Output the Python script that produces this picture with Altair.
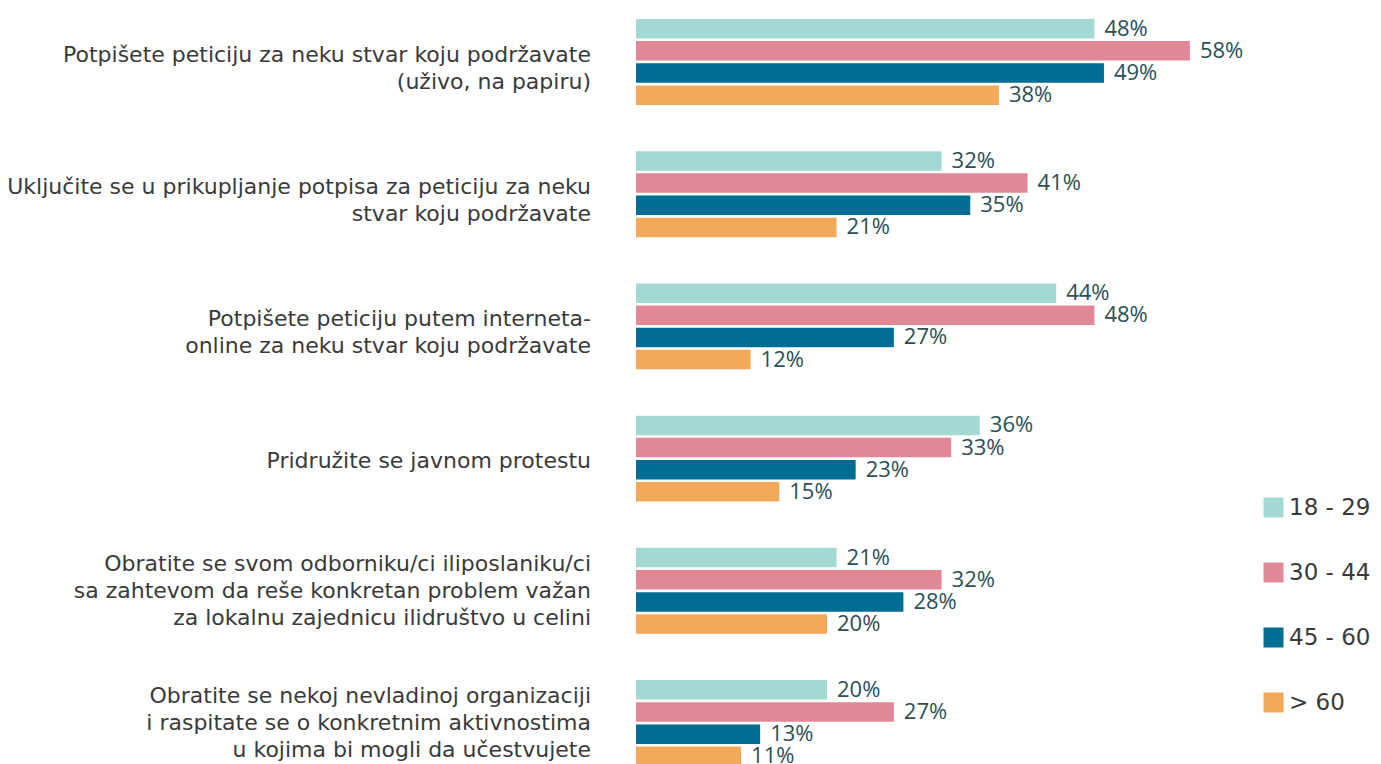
import altair as alt
import pandas as pd

categories = [
    "Potpišete peticiju za neku stvar koju podržavate\n(uživo, na papiru)",
    "Uključite se u prikupljanje potpisa za peticiju za neku\nstvar koju podržavate",
    "Potpišete peticiju putem interneta-\nonline za neku stvar koju podržavate",
    "Pridružite se javnom protestu",
    "Obratite se svom odborniku/ci iliposlaniku/ci\nsa zahtevom da reše konkretan problem važan\nza lokalnu zajednicu ilidruštvo u celini",
    "Obratite se nekoj nevladinoj organizaciji\ni raspitate se o konkretnim aktivnostima\nu kojima bi mogli da učestvujete",
]
series = ["18 - 29", "30 - 44", "45 - 60", "> 60"]
v_18_29 = [48, 32, 44, 36, 21, 20]
v_30_44 = [58, 41, 48, 33, 32, 27]
v_45_60 = [49, 35, 27, 23, 28, 13]
v_60 = [38, 21, 12, 15, 20, 11]
colors = ["#A3D9D2", "#E08896", "#026D93", "#F3A95A"]

rows = []
for s, vals in zip(series, [v_18_29, v_30_44, v_45_60, v_60]):
    for c, v in zip(categories, vals):
        rows.append({"cat": c, "grp": s, "value": v, "label": f"{v}%"})
df = pd.DataFrame(rows)
cat_df = pd.DataFrame({"cat": categories, "nlines": [c.count("\n") + 1 for c in categories]})

yscale = alt.Scale(paddingInner=0.35, paddingOuter=0.045)
y_enc = alt.Y("cat:N", sort=categories, scale=yscale, axis=None)
yoff_enc = alt.YOffset("grp:N", sort=series, scale=alt.Scale(paddingInner=0.12, paddingOuter=0))
x_enc = alt.X("value:Q", scale=alt.Scale(domain=[0, 60]), axis=None)

base = alt.Chart(df)

bars = base.mark_bar().encode(
    y=y_enc,
    yOffset=yoff_enc,
    x=x_enc,
    color=alt.Color(
        "grp:N",
        sort=series,
        scale=alt.Scale(domain=series, range=colors),
        legend=alt.Legend(
            title=None,
            orient="none",
            legendX=626,
            legendY=483,
            symbolType="square",
            symbolSize=400,
            symbolStrokeWidth=0,
            symbolOpacity=1,
            labelFontSize=23,
            labelFont="DejaVu Sans",
            labelFontWeight=400,
            labelColor="#3a3a3a",
            rowPadding=41,
            labelOffset=4,
            labelLimit=300,
        ),
    ),
)

vals = base.mark_text(
    align="left", baseline="middle", dx=10, font="Open Sans", fontSize=22,
    fontWeight=400, color="#2B4F56"
).encode(y=y_enc, yOffset=yoff_enc, x=x_enc, text="label:N")

cat_layers = []
for n, dy in [(1, 2), (2, -7), (3, -27)]:
    cat_layers.append(
        alt.Chart(cat_df).transform_filter(alt.datum.nlines == n).mark_text(
            align="right", baseline="middle", lineBreak="\n", font="DejaVu Sans", fontSize=22,
            fontWeight=400, color="#3a3a3a", lineHeight=27, dy=dy,
        ).encode(y=y_enc, x=alt.value(-45), text="cat:N")
    )

chart = alt.layer(bars, vals, *cat_layers).properties(
    width=573,
    height=759,
    padding={"left": 628, "top": 5, "right": 164, "bottom": 0},
    autosize="none",
).configure_view(stroke=None)

chart.save("out.html", embed_options={"renderer": "svg", "actions": False})
